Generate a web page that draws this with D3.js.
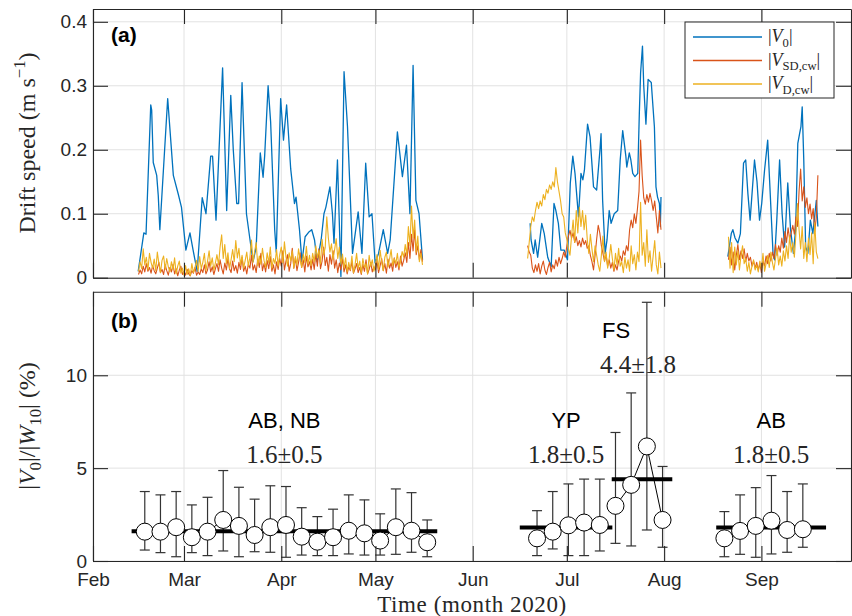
<!DOCTYPE html>
<html>
<head>
<meta charset="utf-8">
<script src="https://cdn.jsdelivr.net/npm/d3@7"></script>
<style>
  body { margin: 0; background: #fff; }
  svg { display: block; }
  .tick text { font-family: "Liberation Sans", Arial, sans-serif; font-size: 19px; fill: #262626; }
  .serif { font-family: "Liberation Serif", "Times New Roman", serif; fill: #262626; }
  .sans { font-family: "Liberation Sans", Arial, sans-serif; fill: #000; }
</style>
</head>
<body>
<svg id="chart" width="852" height="616"></svg>
<script>
// tick labels
const monthNames = ["Feb", "Mar", "Apr", "May", "Jun", "Jul", "Aug", "Sep"];
const speedTicks = [0, 0.1, 0.2, 0.3, 0.4];
const ratioTicks = [0, 5, 10];

// |V0| (m/s), [day since 1 Feb 2020, value]
const v0Seg1 = [[14.4,0.010],[16.2,0.070],[16.9,0.068],[18.4,0.270],[18.7,0.262],[19.2,0.180],[20.3,0.160],[20.8,0.128],[21.3,0.075],[23.8,0.280],[25.6,0.160],[27.2,0.130],[28.2,0.110],[29.6,0.043],[30.9,0.070],[31.9,0.043],[33.2,0.010],[34.8,0.125],[36.0,0.100],[37.5,0.190],[38.1,0.190],[39.2,0.090],[41.3,0.328],[42.6,0.105],[43.9,0.285],[44.7,0.200],[45.8,0.116],[46.4,0.116],[47.5,0.305],[48.9,0.100],[49.9,0.064],[51.0,0.025],[52.0,0.048],[53.3,0.195],[54.2,0.157],[54.7,0.190],[55.8,0.300],[56.6,0.244],[57.9,0.075],[58.4,0.040],[59.8,0.280],[60.7,0.215],[61.7,0.270],[63.0,0.170],[64.2,0.116],[64.7,0.126],[65.8,0.075],[66.6,0.025],[67.6,0.064],[68.7,0.071],[69.7,0.075],[70.6,0.059],[71.4,0.025],[72.7,0.059],[73.6,0.100],[74.2,0.110],[75.5,0.142],[76.3,0.100],[76.8,0.054],[77.9,0.184],[79.0,0.002],[80.0,0.322],[81.1,0.236],[82.7,0.038],[84.5,0.103],[85.7,0.038],[86.9,0.179],[88.0,0.095],[88.9,0.100],[89.9,0.023],[91.0,0.038],[92.5,0.075],[93.9,0.038],[94.7,0.059],[97.0,0.228],[98.6,0.158],[99.9,0.207],[101.0,0.100],[102.0,0.332],[102.9,0.121],[103.9,0.100],[105.0,0.028]];
const v0Seg2 = [[139.3,0.085],[139.6,0.059],[140.4,0.038],[140.9,0.059],[141.7,0.032],[143.0,0.085],[143.8,0.069],[144.9,0.032],[146.0,0.017],[146.9,0.116],[147.5,0.105],[148.3,0.085],[149.1,0.043],[150.2,0.043],[151.2,0.028],[152.1,0.148],[152.9,0.190],[153.6,0.163],[154.7,0.095],[155.5,0.163],[156.1,0.153],[156.6,0.168],[157.6,0.240],[158.4,0.220],[159.5,0.142],[160.5,0.137],[161.6,0.203],[161.9,0.225],[162.4,0.121],[163.2,0.038],[163.8,0.059],[164.5,0.105],[165.1,0.085],[166.1,0.100],[167.2,0.105],[168.0,0.184],[168.8,0.230],[169.8,0.190],[170.1,0.173],[170.9,0.195],[171.4,0.184],[172.0,0.163],[172.7,0.158],[173.6,0.163],[174.1,0.257],[174.5,0.320],[175.1,0.362],[175.5,0.300],[176.2,0.240],[176.9,0.310],[177.9,0.305],[178.9,0.236],[179.4,0.142],[179.9,0.126],[180.5,0.116],[180.8,0.080],[181.0,0.126]];
const v0Seg3 = [[202.3,0.033],[203.4,0.069],[203.9,0.075],[204.6,0.062],[205.5,0.054],[206.3,0.069],[207.3,0.179],[208.0,0.184],[208.7,0.131],[209.4,0.090],[210.8,0.184],[211.6,0.150],[212.4,0.090],[213.1,0.116],[214.0,0.168],[215.0,0.215],[215.6,0.153],[216.7,0.038],[217.2,0.028],[217.9,0.090],[218.8,0.184],[219.6,0.100],[220.4,0.048],[221.4,0.148],[222.3,0.075],[223.2,0.038],[223.9,0.075],[224.6,0.210],[225.2,0.226],[225.6,0.236],[226.0,0.267],[226.5,0.184],[227.1,0.048],[227.8,0.038],[228.6,0.090],[229.4,0.069],[230.5,0.121],[231.0,0.080]];

// half-daily samples, first sample day of each deployment
const sampleStart = [14.5, 138.5, 202.5];
const sampleStep = 0.5;

// |V_SD,cw| (cm/s)
const vsd1 = [0.5,1.2,0.6,1.8,0.9,2.2,1.0,1.6,0.7,1.9,1.1,
  0.6,1.5,2.4,0.8,1.3,0.5,2.0,1.1,0.4,1.6,
  0.9,2.1,0.6,1.4,0.3,1.2,1.8,0.5,1.0,0.4,
  1.3,0.6,0.3,1.1,0.7,1.6,0.4,0.9,0.5,1.4,
  0.8,2.0,0.6,1.2,2.5,0.9,1.7,0.5,1.4,2.2,
  1.0,2.8,1.5,0.6,2.3,1.2,3.0,1.4,0.8,2.6,
  1.1,1.9,0.7,2.4,1.3,3.2,1.0,1.8,0.6,2.1,
  1.5,3.5,1.2,2.0,0.8,2.9,1.6,3.8,1.1,2.2,
  0.9,2.7,1.4,3.3,1.0,2.0,0.6,2.5,1.3,3.0,
  1.8,4.2,1.2,2.6,3.6,1.0,2.2,4.6,1.5,3.1,
  1.1,2.4,3.9,1.6,2.8,0.9,3.4,1.7,2.5,1.2,
  2.9,1.3,3.7,1.8,4.5,1.4,2.6,4.8,1.9,3.2,
  1.0,3.6,2.1,4.2,1.5,2.8,0.8,2.3,1.2,3.0,
  0.9,2.0,0.6,1.7,1.1,2.5,0.7,1.4,2.2,0.8,
  1.6,0.5,2.1,1.0,2.8,0.6,1.3,2.4,0.9,1.7,
  1.2,2.6,0.8,1.9,3.0,1.1,2.2,0.7,2.9,1.5,
  2.3,1.0,3.1,1.6,2.5,1.2,3.4,1.8,2.7,3.9,
  2.4,5.5,3.0,6.8,4.2,7.5,3.6,5.0,2.8,4.4,2.5];
const vsd2 = [5.0,4.0,3.5,1.5,0.8,2.0,1.0,2.2,0.6,1.8,
  2.6,1.2,0.5,1.6,2.4,0.9,2.0,1.4,2.8,1.8,
  3.2,2.2,3.0,4.0,3.2,5.0,6.5,7.4,6.2,7.0,
  5.5,6.4,5.0,5.8,4.8,6.2,5.2,5.8,4.6,5.0,
  3.5,2.5,1.2,3.5,6.0,8.2,7.0,5.0,3.8,2.6,
  3.6,1.8,2.8,1.5,2.4,1.0,2.0,1.2,2.6,3.4,
  2.6,4.2,3.5,5.0,4.2,7.5,9.0,7.8,10.0,8.5,
  10.8,13.5,21.5,16.0,12.5,11.5,13.0,11.8,13.2,12.0,
  10.5,12.0,9.5,7.0,10.5,7.5];
const vsd3 = [2.8,4.8,2.0,4.0,1.2,3.5,5.2,2.8,4.2,3.0,
  4.5,2.5,3.8,2.6,3.2,1.8,2.6,1.5,2.4,1.2,
  2.2,0.8,2.6,1.8,3.4,2.2,3.8,2.6,4.0,3.0,
  5.2,3.5,5.0,4.0,6.2,4.6,7.2,5.5,7.8,6.0,
  7.0,8.2,6.8,9.5,8.0,13.5,17.0,12.0,14.2,11.0,
  12.5,10.0,11.5,9.2,10.8,7.2,9.5,16.0];

// |V_D,cw| (cm/s)
const vd1 = [1.0,2.5,1.4,4.5,2.0,3.2,1.2,3.8,2.4,1.5,2.9,
  1.1,4.0,2.2,0.8,2.7,3.4,1.3,3.0,1.7,0.9,
  2.5,1.2,3.1,0.6,1.8,2.6,0.7,1.5,0.4,1.9,
  0.5,1.4,0.3,2.2,0.8,1.6,2.7,1.0,3.3,1.4,
  2.4,3.8,1.1,2.6,4.2,1.8,3.1,1.2,2.3,3.6,
  2.0,4.8,6.7,3.0,5.2,2.2,3.9,1.4,2.8,4.4,
  2.5,5.8,3.1,4.6,2.0,3.5,1.5,2.7,4.0,1.8,
  3.2,5.9,2.4,4.1,5.5,1.9,3.4,2.1,4.6,2.7,
  1.6,3.9,2.3,4.8,1.5,3.0,2.2,4.4,1.8,3.6,
  4.8,2.3,5.6,3.2,1.8,3.9,2.6,4.2,1.5,3.3,
  2.0,4.5,2.8,1.6,3.7,2.4,4.9,2.1,3.5,1.9,
  3.8,2.5,5.0,3.1,4.3,2.2,6.0,3.6,4.7,9.5,
  6.2,4.0,5.3,2.8,4.4,6.1,3.0,4.8,2.1,3.7,
  1.5,3.1,0.9,2.4,1.2,3.4,0.8,2.0,3.8,1.4,
  2.6,0.7,3.0,1.6,2.2,0.6,3.5,1.8,2.8,1.0,
  2.1,3.6,1.3,4.3,2.4,1.1,3.2,4.0,1.7,2.9,
  4.4,1.9,3.0,2.2,3.8,1.6,2.5,4.1,3.2,5.2,
  3.5,8.0,5.0,11.2,6.2,9.0,4.0,6.5,2.5,3.8,2.0];
const vd2 = [3.0,5.5,8.0,9.5,8.8,10.5,11.8,10.8,12.0,11.2,
  13.0,12.2,13.8,13.2,14.5,13.8,15.0,14.2,17.2,15.0,
  13.5,12.0,10.0,9.5,7.0,6.0,4.5,3.5,6.5,9.0,
  5.5,10.5,7.0,11.0,8.0,10.5,7.5,9.8,6.0,3.8,
  6.8,4.5,2.5,5.0,3.5,2.0,1.0,3.5,6.5,2.5,
  4.0,1.5,3.0,5.2,3.0,1.2,3.8,2.0,4.6,1.8,
  2.5,0.8,3.2,1.5,2.8,1.0,5.0,2.2,3.6,1.2,
  4.0,2.5,11.8,3.5,5.5,1.8,7.5,2.4,4.2,1.0,
  3.4,5.8,2.0,0.6,4.0,1.5];
const vd3 = [6.4,1.5,5.5,0.8,4.8,2.0,4.2,1.2,3.5,5.0,
  2.2,3.0,1.0,2.4,0.6,1.8,2.8,1.2,2.0,0.9,
  2.6,1.4,3.8,1.0,2.2,3.5,1.6,4.0,2.4,1.2,
  3.0,4.6,2.0,3.4,1.8,4.2,2.6,5.0,3.0,6.5,
  4.0,5.5,3.2,6.8,11.6,7.5,4.5,8.0,3.0,5.5,
  2.5,6.2,3.6,7.0,2.2,8.6,4.0,3.0];

// |V0|/|W10| (%) five-day estimates
const ratioDays = [16.5,21.5,26.5,31.5,36.5,41.5,46.5,51.5,56.5,61.5,66.5,71.5,76.5,81.5,86.5,91.5,96.5,101.5,106.5,
  141.5,146.5,151.5,156.5,161.5,166.5,171.5,176.5,181.5,
  201.2,206.2,211.2,216.2,221.2,226.2];
const ratioVals = [1.58,1.58,1.82,1.28,1.58,2.21,1.89,1.40,1.82,1.94,1.31,1.04,1.28,1.63,1.49,1.10,1.82,1.63,1.01,
  1.22,1.58,1.92,2.07,1.94,2.97,4.10,6.17,2.21,
  1.22,1.62,1.89,2.17,1.67,1.71];
const ratioHi = [3.74,3.56,3.74,3.02,3.43,4.87,3.97,3.33,4.05,4.01,2.87,2.39,2.79,3.56,3.29,2.54,3.88,3.68,2.21,
  2.71,3.74,4.15,4.41,4.41,6.92,9.05,13.93,5.09,
  2.66,3.56,3.95,4.60,3.74,4.15];
const ratioLo = [0.59,0.45,0.23,0.45,0.29,0.54,0.23,0.50,0.47,0.20,0.32,0.29,0.29,0.38,0.32,0.32,0.36,0.47,0.23,
  0.29,0.65,0.29,0.29,0.54,0.95,0.81,1.67,0.74,
  0.23,0.36,0.20,0.38,0.47,0.74];

// regions and their mean ratio
const regionNames = ["AB, NB", "YP", "FS", "AB"];
const regionMeans = [1.6, 1.8, 4.4, 1.8];
const regionStds = [0.5, 0.5, 1.8, 0.5];
const regionFrom = [12.3, 136.0, 165.3, 198.6];
const regionTo = [109.7, 165.5, 184.6, 233.6];

// ---- drawing ----
const day0 = Date.UTC(2020, 1, 1);
const toDate = d => new Date(day0 + d * 864e5);

const svg = d3.select("#chart");
svg.append("rect").attr("width", 852).attr("height", 616).attr("fill", "#fff");

const L = 93, R = 851;
const pA = { top: 9, bottom: 277.7 };
const pB = { top: 291.7, bottom: 561 };

const x = d3.scaleUtc().domain([toDate(0), toDate(241.55)]).range([L, R]);
const yA = d3.scaleLinear().domain([0, 0.42]).range([pA.bottom, pA.top]);
const yB = d3.scaleLinear().domain([0, 14.5]).range([pB.bottom, pB.top]);
const monthDates = monthNames.map((m, i) => new Date(Date.UTC(2020, 1 + i, 1)));

function grid(y, ticks, panel) {
  const g = svg.append("g").attr("stroke", "#e2e2e2").attr("stroke-width", 1);
  g.selectAll("line.gx").data(monthDates).join("line").attr("class", "gx")
    .attr("x1", d => x(d)).attr("x2", d => x(d))
    .attr("y1", panel.top).attr("y2", panel.bottom);
  g.selectAll("line.gy").data(ticks).join("line").attr("class", "gy")
    .attr("x1", L).attr("x2", R)
    .attr("y1", d => y(d)).attr("y2", d => y(d));
}

function axes(y, ticks, panel, showX, fmt) {
  const g = svg.append("g");
  const style = s => {
    s.selectAll(".domain").attr("stroke", "#262626").attr("stroke-width", 1.1).attr("fill", "none");
    s.selectAll(".tick line").attr("stroke", "#262626").attr("stroke-width", 1.1);
  };
  g.append("g").attr("transform", `translate(0,${panel.bottom})`)
    .call(d3.axisBottom(x).tickValues(monthDates).tickSizeInner(-15).tickSizeOuter(0).tickPadding(12)
      .tickFormat((d, i) => showX ? monthNames[i] : ""))
    .call(style);
  g.append("g").attr("transform", `translate(0,${panel.top})`)
    .call(d3.axisTop(x).tickValues(monthDates).tickSizeInner(-15).tickSizeOuter(0).tickFormat(""))
    .call(style);
  g.append("g").attr("transform", `translate(${L},0)`)
    .call(d3.axisLeft(y).tickValues(ticks).tickSizeInner(-15).tickSizeOuter(0).tickPadding(6).tickFormat(fmt))
    .call(style);
  g.append("g").attr("transform", `translate(${R},0)`)
    .call(d3.axisRight(y).tickValues(ticks).tickSizeInner(-15).tickSizeOuter(0).tickFormat(""))
    .call(style);
}

// math text helper: parts with italic / sub / sup
function mathText(t, parts, size) {
  let shift = 0;
  parts.forEach(p => {
    const target = p.sub ? size * 0.25 : p.sup ? -size * 0.42 : 0;
    const ts = t.append("tspan").text(p.t).attr("dy", target - shift);
    shift = target;
    if (p.it) ts.attr("font-style", "italic");
    if (p.sub || p.sup) ts.attr("font-size", size * 0.7);
  });
}

// ---- panel (a) ----
grid(yA, speedTicks, pA);

const lineA = d3.line().x(d => x(toDate(d[0]))).y(d => yA(d[1]));
const sampled = (vals, k) => vals.map((v, i) => [sampleStart[k] + i * sampleStep, v / 100]);

const colV0 = "#0072BD", colSD = "#D95319", colD = "#EDB120";
[v0Seg1, v0Seg2, v0Seg3].forEach(s =>
  svg.append("path").datum(s).attr("d", lineA).attr("fill", "none")
    .attr("stroke", colV0).attr("stroke-width", 1.3).attr("stroke-linejoin", "round"));
[vsd1, vsd2, vsd3].forEach((s, k) =>
  svg.append("path").datum(sampled(s, k)).attr("d", lineA).attr("fill", "none")
    .attr("stroke", colSD).attr("stroke-width", 1.1).attr("stroke-linejoin", "round"));
[vd1, vd2, vd3].forEach((s, k) =>
  svg.append("path").datum(sampled(s, k)).attr("d", lineA).attr("fill", "none")
    .attr("stroke", colD).attr("stroke-width", 1.1).attr("stroke-linejoin", "round"));

axes(yA, speedTicks, pA, false, d => d3.format("~g")(d));

svg.append("text").attr("class", "sans").attr("x", 111).attr("y", 42)
  .attr("font-size", 21).attr("font-weight", "bold").text("(a)");

// legend
const leg = svg.append("g");
leg.append("rect").attr("x", 685).attr("y", 22).attr("width", 149).attr("height", 76)
  .attr("fill", "#fff").attr("stroke", "#262626").attr("stroke-width", 1);
const legItems = [
  { c: colV0, parts: [{ t: "|" }, { t: "V", it: true }, { t: "0", sub: true }, { t: "|" }] },
  { c: colSD, parts: [{ t: "|" }, { t: "V", it: true }, { t: "SD,cw", sub: true }, { t: "|" }] },
  { c: colD, parts: [{ t: "|" }, { t: "V", it: true }, { t: "D,cw", sub: true }, { t: "|" }] }
];
legItems.forEach((it, i) => {
  const yy = 37 + i * 23.5;
  leg.append("line").attr("x1", 693).attr("x2", 762).attr("y1", yy).attr("y2", yy)
    .attr("stroke", it.c).attr("stroke-width", 1.3);
  const t = leg.append("text").attr("class", "serif").attr("x", 768).attr("y", yy + 5).attr("font-size", 18);
  mathText(t, it.parts, 18);
});

// y label (a)
const ylA = svg.append("text").attr("class", "serif").attr("font-size", 24)
  .attr("text-anchor", "middle").attr("transform", "translate(35,143) rotate(-90)");
mathText(ylA, [{ t: "Drift speed (m s" }, { t: "\u22121", sup: true }, { t: ")" }], 24);

// ---- panel (b) ----
grid(yB, ratioTicks, pB);

const pts = ratioDays.map((d, i) => ({ d, v: ratioVals[i], hi: ratioHi[i], lo: ratioLo[i] }));

// error bars
const eb = svg.append("g").attr("stroke", "#333").attr("stroke-width", 1.2);
pts.forEach(p => {
  const cx = x(toDate(p.d));
  eb.append("line").attr("x1", cx).attr("x2", cx).attr("y1", yB(p.lo)).attr("y2", yB(p.hi));
  [p.lo, p.hi].forEach(v =>
    eb.append("line").attr("x1", cx - 5).attr("x2", cx + 5).attr("y1", yB(v)).attr("y2", yB(v)));
});

// region means, connecting lines and labels
const lineB = d3.line().x(p => x(toDate(p.d))).y(p => yB(p.v));
const labelShift = { FS: { dx: -26, dy: -90, sdx: -4 } };
regionNames.forEach((name, r) => {
  svg.append("line")
    .attr("x1", x(toDate(regionFrom[r]))).attr("x2", x(toDate(regionTo[r])))
    .attr("y1", yB(regionMeans[r])).attr("y2", yB(regionMeans[r]))
    .attr("stroke", "#000").attr("stroke-width", 4);
  const inR = pts.filter(p => p.d >= regionFrom[r] && p.d <= regionTo[r]);
  svg.append("path").datum(inR).attr("d", lineB).attr("fill", "none")
    .attr("stroke", "#000").attr("stroke-width", 1);
  const cx = x(toDate((regionFrom[r] + regionTo[r]) / 2));
  const sh = labelShift[name] || { dx: 0, dy: 0, sdx: 0 };
  svg.append("text").attr("class", "sans").attr("font-size", 22).attr("text-anchor", "middle")
    .attr("x", cx + sh.dx).attr("y", yB(7.15) + sh.dy).text(name);
  svg.append("text").attr("class", "serif").attr("font-size", 25).attr("text-anchor", "middle")
    .attr("x", cx + sh.sdx).attr("y", yB(7.15) + 35 + sh.dy)
    .text(regionMeans[r].toFixed(1) + "\u00b1" + regionStds[r].toFixed(1));
});

// markers
svg.append("g").selectAll("circle").data(pts).join("circle")
  .attr("cx", p => x(toDate(p.d))).attr("cy", p => yB(p.v)).attr("r", 8.5)
  .attr("fill", "#fff").attr("stroke", "#000").attr("stroke-width", 1);

axes(yB, ratioTicks, pB, true, d => d3.format("d")(d));

svg.append("text").attr("class", "sans").attr("x", 111).attr("y", 328)
  .attr("font-size", 21).attr("font-weight", "bold").text("(b)");

const ylB = svg.append("text").attr("class", "serif").attr("font-size", 24)
  .attr("text-anchor", "middle").attr("transform", "translate(35,426) rotate(-90)");
mathText(ylB, [{ t: "|" }, { t: "V", it: true }, { t: "0", sub: true }, { t: "|/|" },
  { t: "W", it: true }, { t: "10", sub: true }, { t: "| (%)" }], 24);

svg.append("text").attr("class", "serif").attr("font-size", 23).attr("text-anchor", "middle")
  .attr("letter-spacing", 0.6).attr("x", 472).attr("y", 612).text("Time (month 2020)");
</script>
</body>
</html>
